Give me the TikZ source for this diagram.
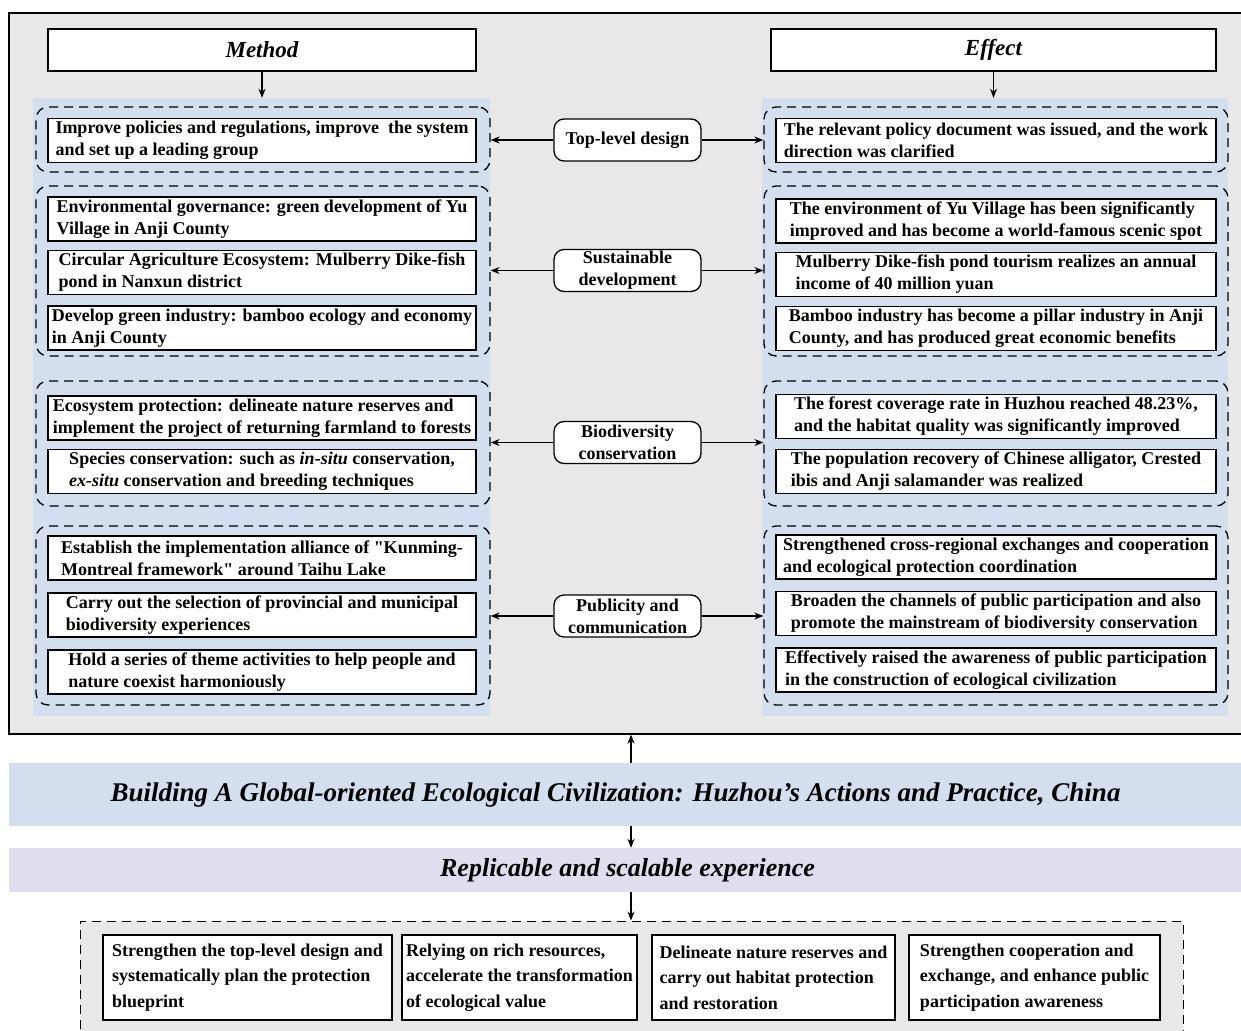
\documentclass[tikz,border=0pt]{standalone}
\usepackage{fontspec}
\setmainfont{Liberation Serif}
\usetikzlibrary{arrows.meta}
\definecolor{grayfill}{HTML}{E8E8E8}
\definecolor{bluefill}{HTML}{D3DFEF}
\definecolor{purplefill}{HTML}{DFDDEE}
\begin{document}
\begin{tikzpicture}[x=1pt,y=-1pt,
  box/.style={draw, fill=white, line width=1.3pt, inner xsep=2pt, inner ysep=1pt, align=left,
    minimum height=44pt, font=\fontsize{18}{22}\selectfont\bfseries},
  lbox/.style={box, minimum width=428pt},
  rbox/.style={box, minimum width=440pt},
  grp/.style={draw, dash pattern=on 9pt off 6pt, line width=1.3pt, rounded corners=12pt, inner sep=0pt},
  lgrp/.style={grp, minimum width=454pt},
  rgrp/.style={grp, minimum width=464pt},
  panel/.style={fill=bluefill, inner sep=0pt},
  mid/.style={draw, fill=white, rounded corners=10pt, line width=1.3pt, minimum width=147pt,
    minimum height=42pt, align=center, inner sep=0pt, font=\fontsize{18}{22}\selectfont\bfseries},
  head/.style={draw, fill=white, line width=1.3pt, minimum height=42pt, inner sep=0pt,
    font=\fontsize{23}{27}\selectfont\bfseries\itshape},
  arr/.style={-{Stealth[length=9pt,width=7pt]}, line width=1.2pt},
  bbox/.style={draw, fill=white, line width=1.3pt, minimum height=85pt, align=left, inner sep=0pt,
    font=\fontsize{18}{25.5}\selectfont\bfseries},
  bantext/.style={font=\bfseries\itshape, inner sep=0pt}
]
\useasboundingbox (0,0) rectangle (1241,1030);
\fill[white] (0,0) rectangle (1241,1030);
\clip (0,0) rectangle (1241,1030);
\coordinate (axis) at (631,0);

% outer gray frame
\node[draw, fill=grayfill, line width=1.3pt, minimum width=1251pt, minimum height=721pt, inner sep=0pt] (outer) at (634.5,373.5) {};

% headers
\node[head, minimum width=428pt] (method) at (262,50) {Method};
\node[head, minimum width=445pt] (effect) at (993.5,50) {Effect};

% panels
\node[panel, minimum width=457pt, minimum height=618pt] (panelL) at (261.5,407) {};
\node[panel, minimum width=466pt, minimum height=618pt] (panelR) at (995,407) {};

\draw[arr] (method.south) -- (method.south |- panelL.north);
\draw[arr] (effect.south) -- (effect.south |- panelR.north);

% groups
\node[lgrp, minimum height=65pt] (gL1) at (263,139.5) {};
\node[lgrp, minimum height=170pt] (gL2) at (263,271) {};
\node[lgrp, minimum height=125pt] (gL3) at (263,443.5) {};
\node[lgrp, minimum height=179pt] (gL4) at (263,615.5) {};
\node[rgrp, minimum height=65pt] (gR1) at (996,139.5) {};
\node[rgrp, minimum height=170pt] (gR2) at (996,271) {};
\node[rgrp, minimum height=125pt] (gR3) at (996,443.5) {};
\node[rgrp, minimum height=179pt] (gR4) at (996,615.5) {};

% left boxes
\node[lbox] (bL1) at (262,140.5) {Improve policies and regulations, improve \ the system\\and set up a leading group};
\node[lbox] (bL2) at (262,219) {Environmental governance: green development of Yu\\Village in Anji County};
\node[lbox] (bL3) at (262,272.5) {Circular Agriculture Ecosystem: Mulberry Dike-fish\\pond in Nanxun district};
\node[lbox] (bL4) at (262,328) {Develop green industry: bamboo ecology and economy\\in Anji County};
\node[lbox] (bL5) at (262,418) {Ecosystem protection: delineate nature reserves and\\implement the project of returning farmland to forests};
\node[lbox] (bL6) at (262,471.5) {Species conservation: such as \textit{in-situ} conservation,\\\textit{ex-situ} conservation and breeding techniques};
\node[lbox] (bL7) at (262,558) {Establish the implementation alliance of \textquotedbl Kunming-\\Montreal framework\textquotedbl{} around Taihu Lake};
\node[lbox] (bL8) at (262,615) {Carry out the selection of provincial and municipal\\biodiversity experiences};
\node[lbox] (bL9) at (262,672) {Hold a series of theme activities to help people and\\nature coexist harmoniously};

% right boxes
\node[rbox] (bR1) at (996,140.5) {The relevant policy document was issued, and the work\\direction was clarified};
\node[rbox] (bR2) at (996,221) {The environment of Yu Village has been significantly\\improved and has become a world-famous scenic spot};
\node[rbox] (bR3) at (996,274.5) {Mulberry Dike-fish pond tourism realizes an annual\\income of 40 million yuan};
\node[rbox] (bR4) at (996,328.5) {Bamboo industry has become a pillar industry in Anji\\County, and has produced great economic benefits};
\node[rbox] (bR5) at (996,416.5) {The forest coverage rate in Huzhou reached 48.23\%,\\and the habitat quality was significantly improved};
\node[rbox] (bR6) at (996,471.5) {The population recovery of Chinese alligator, Crested\\ibis and Anji salamander was realized};
\node[rbox] (bR7) at (996,557) {Strengthened cross-regional exchanges and cooperation\\and ecological protection coordination};
\node[rbox] (bR8) at (996,613.5) {Broaden the channels of public participation and also\\promote the mainstream of biodiversity conservation};
\node[rbox] (bR9) at (996,670) {Effectively raised the awareness of public participation\\in the construction of ecological civilization};

% middle nodes
\node[mid] (m1) at (627.5,140) {Top-level design};
\node[mid] (m2) at (627.5,270.5) {Sustainable\\development};
\node[mid] (m3) at (627.5,442.5) {Biodiversity\\conservation};
\node[mid] (m4) at (627.5,616) {Publicity and\\communication};

\foreach \i in {1,2,3,4}{
  \draw[arr] (m\i.west) -- (m\i.west -| gL\i.east);
  \draw[arr] (m\i.east) -- (m\i.east -| gR\i.west);
}

% banners
\node[fill=bluefill, minimum width=1251pt, minimum height=63pt, inner sep=0pt] (banner) at (634.5,794.5) {};
\node[bantext, font=\fontsize{27}{30}\selectfont\bfseries\itshape] (bannertext) at (615.5,795) {Building A Global-oriented Ecological Civilization: Huzhou's Actions and Practice, China};
\node[fill=purplefill, minimum width=1251pt, minimum height=44pt, inner sep=0pt] (purple) at (634.5,870) {};
\node[bantext, font=\fontsize{26}{30}\selectfont\bfseries\itshape] (purpletext) at (627.5,870) {Replicable and scalable experience};

\draw[arr] (banner.north -| axis) -- (outer.south -| axis);
\draw[arr] (banner.south -| axis) -- (purple.north -| axis);

% bottom group
\node[draw, fill=grayfill, dash pattern=on 9pt off 6pt, line width=1pt, minimum width=1103pt, minimum height=140pt, inner sep=0pt] (bg) at (631.5,991) {};
\draw[arr] (purple.south -| axis) -- (bg.north -| axis);

\node[bbox, minimum width=289pt] (e1) at (247.5,977.5) {Strengthen the top-level design and\\systematically plan the protection\\blueprint};
\node[bbox, minimum width=235pt] (e2) at (519.5,977.5) {Relying on rich resources,\\accelerate the transformation\\of ecological value};
\node[bbox, minimum width=243pt] (e3) at (773.5,977.5) {Delineate nature reserves and\\carry out habitat protection\\and restoration};
\node[bbox, minimum width=251pt] (e4) at (1034.5,977.5) {Strengthen cooperation and\\exchange, and enhance public\\participation awareness};
\end{tikzpicture}
\end{document}
